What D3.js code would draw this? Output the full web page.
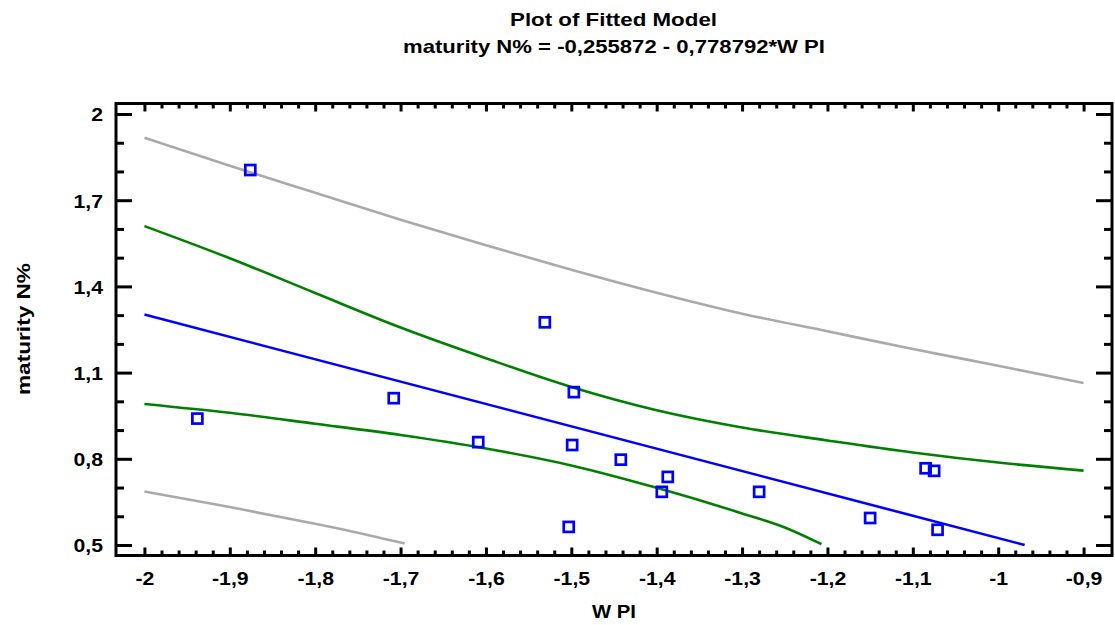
<!DOCTYPE html>
<html>
<head>
<meta charset="utf-8">
<script src="https://cdn.jsdelivr.net/npm/d3@7/dist/d3.min.js"></script>
<style>
    body { margin: 0; background: #fff; }
    text { font-family: Arial, "Liberation Sans", sans-serif; font-weight: bold; fill: #000; }
</style>
</head>
<body>
<div id="chart"></div>
<script>
// ===================================
// Plot of Fitted Model
// ===================================

// observations (WPI, maturity N%)
const obsX = [-1.938, -1.876, -1.708, -1.609, -1.531, -1.499, -1.497, -1.503, -1.442,
              -1.387, -1.394, -1.280, -1.150, -1.085, -1.075, -1.071];
const obsY = [0.940, 1.805, 1.011, 0.858, 1.275, 0.848, 1.032, 0.563, 0.797,
              0.737, 0.685, 0.685, 0.594, 0.767, 0.758, 0.553];

// fitted line
const fitX = [-2, -0.969];
const fitY = [1.302, 0.5];

// confidence limits (green)
const confUpperX = [-2, -1.9, -1.8, -1.7, -1.6, -1.5, -1.4, -1.3, -1.2, -1.1, -1.0, -0.9];
const confUpperY = [1.610, 1.498, 1.377, 1.257, 1.150, 1.050, 0.969, 0.909, 0.864, 0.822, 0.787, 0.759];
const confLowerX = [-2, -1.9, -1.8, -1.7, -1.6, -1.5, -1.4, -1.3, -1.25, -1.207];
const confLowerY = [0.991, 0.960, 0.922, 0.883, 0.836, 0.777, 0.699, 0.610, 0.561, 0.503];

// prediction limits (gray)
const predUpperX = [-2, -1.9, -1.8, -1.7, -1.6, -1.5, -1.4, -1.3, -1.2, -1.1, -1.0, -0.9];
const predUpperY = [1.917, 1.820, 1.726, 1.632, 1.543, 1.458, 1.378, 1.305, 1.244, 1.182, 1.124, 1.064];
const predLowerX = [-2, -1.9, -1.8, -1.75, -1.695];
const predLowerY = [0.686, 0.632, 0.574, 0.543, 0.505];

// ticks
const xTickValues = [-2, -1.9, -1.8, -1.7, -1.6, -1.5, -1.4, -1.3, -1.2, -1.1, -1, -0.9];
const xTickLabels = ['-2', '-1,9', '-1,8', '-1,7', '-1,6', '-1,5', '-1,4', '-1,3', '-1,2', '-1,1', '-1', '-0,9'];
const yTickValues = [0.5, 0.8, 1.1, 1.4, 1.7, 2];
const yTickLabels = ['0,5', '0,8', '1,1', '1,4', '1,7', '2'];

const W = 1115, H = 625;
const frame = { left: 116, right: 1112, top: 103.5, bottom: 555.5 };
const stretch = 'scale(1.18,1)';

const svg = d3.select('#chart').append('svg')
    .attr('width', W)
    .attr('height', H);

const x = d3.scaleLinear().domain([-2.0333, -0.8667]).range([frame.left, frame.right]);
const y = d3.scaleLinear().domain([0.4635, 2.0365]).range([frame.bottom, frame.top]);

// minor ticks
const xMinor = d3.range(0, 56).map(i => -2 + i * 0.02).filter((v, i) => i % 5 !== 0);
const yMinor = d3.range(0, 16).map(i => 0.5 + i * 0.1).filter((v, i) => i % 3 !== 0);

// titles
svg.append('text')
    .attr('x', 613.5).attr('y', 26)
    .attr('text-anchor', 'middle')
    .attr('font-size', 18.5)
    .attr('textLength', 207).attr('lengthAdjust', 'spacingAndGlyphs')
    .text('Plot of Fitted Model');

svg.append('text')
    .attr('x', 614).attr('y', 53)
    .attr('text-anchor', 'middle')
    .attr('font-size', 18.5)
    .attr('textLength', 422).attr('lengthAdjust', 'spacingAndGlyphs')
    .text('maturity N% = -0,255872 - 0,778792*W PI');

// axis titles
svg.append('text')
    .attr('x', 614).attr('y', 618)
    .attr('text-anchor', 'middle')
    .attr('font-size', 18.5)
    .attr('textLength', 44).attr('lengthAdjust', 'spacingAndGlyphs')
    .text('W PI');

svg.append('text')
    .attr('transform', 'translate(30,329) rotate(-90)')
    .attr('text-anchor', 'middle')
    .attr('font-size', 18.5)
    .attr('textLength', 132).attr('lengthAdjust', 'spacingAndGlyphs')
    .text('maturity N%');

// axes
function styleAxis(g) {
    g.select('.domain').remove();
    g.attr('font-size', 18)
        .attr('font-family', 'Arial, "Liberation Sans", sans-serif')
        .attr('font-weight', 'bold');
    g.selectAll('line').attr('stroke', '#000').attr('stroke-width', 3);
    g.selectAll('text').attr('fill', '#000');
}

svg.append('g')
    .attr('transform', `translate(0,${frame.bottom})`)
    .call(d3.axisBottom(x).tickValues(xTickValues).tickSize(-8).tickPadding(17)
        .tickFormat((d, i) => xTickLabels[i]))
    .call(styleAxis)
    .selectAll('text').attr('transform', stretch);

svg.append('g')
    .attr('transform', `translate(0,${frame.bottom})`)
    .call(d3.axisBottom(x).tickValues(xMinor).tickSize(-5).tickFormat(''))
    .call(styleAxis);

svg.append('g')
    .attr('transform', `translate(0,${frame.top})`)
    .call(d3.axisTop(x).tickValues(xTickValues).tickSize(-8).tickFormat(''))
    .call(styleAxis);

svg.append('g')
    .attr('transform', `translate(0,${frame.top})`)
    .call(d3.axisTop(x).tickValues(xMinor).tickSize(-5).tickFormat(''))
    .call(styleAxis);

svg.append('g')
    .attr('transform', `translate(${frame.left},0)`)
    .call(d3.axisLeft(y).tickValues(yTickValues).tickSize(-16).tickPadding(11)
        .tickFormat((d, i) => yTickLabels[i]))
    .call(styleAxis)
    .selectAll('text').attr('transform', stretch).attr('dy', '0.38em');

svg.append('g')
    .attr('transform', `translate(${frame.left},0)`)
    .call(d3.axisLeft(y).tickValues(yMinor).tickSize(-8).tickFormat(''))
    .call(styleAxis);

svg.append('g')
    .attr('transform', `translate(${frame.right},0)`)
    .call(d3.axisRight(y).tickValues(yTickValues).tickSize(-16).tickFormat(''))
    .call(styleAxis);

svg.append('g')
    .attr('transform', `translate(${frame.right},0)`)
    .call(d3.axisRight(y).tickValues(yMinor).tickSize(-8).tickFormat(''))
    .call(styleAxis);

// frame
svg.append('rect')
    .attr('x', frame.left).attr('y', frame.top)
    .attr('width', frame.right - frame.left)
    .attr('height', frame.bottom - frame.top)
    .attr('fill', 'none')
    .attr('stroke', '#000')
    .attr('stroke-width', 3);

// curves
const line = d3.line().x(d => x(d[0])).y(d => y(d[1])).curve(d3.curveMonotoneX);
const curves = [
    { xs: predUpperX, ys: predUpperY, color: '#aaaaaa' },
    { xs: predLowerX, ys: predLowerY, color: '#aaaaaa' },
    { xs: confUpperX, ys: confUpperY, color: '#008000' },
    { xs: confLowerX, ys: confLowerY, color: '#008000' },
    { xs: fitX, ys: fitY, color: '#0000ff' }
];

svg.append('g')
    .selectAll('path')
    .data(curves)
    .join('path')
    .attr('d', c => line(d3.zip(c.xs, c.ys)))
    .attr('fill', 'none')
    .attr('stroke', c => c.color)
    .attr('stroke-width', 2.6);

// points
const sq = 10;
svg.append('g')
    .selectAll('rect')
    .data(d3.zip(obsX, obsY))
    .join('rect')
    .attr('x', d => x(d[0]) - sq / 2)
    .attr('y', d => y(d[1]) - sq / 2)
    .attr('width', sq)
    .attr('height', sq)
    .attr('fill', 'none')
    .attr('stroke', '#0000ff')
    .attr('stroke-width', 2.7);
</script>
</body>
</html>
